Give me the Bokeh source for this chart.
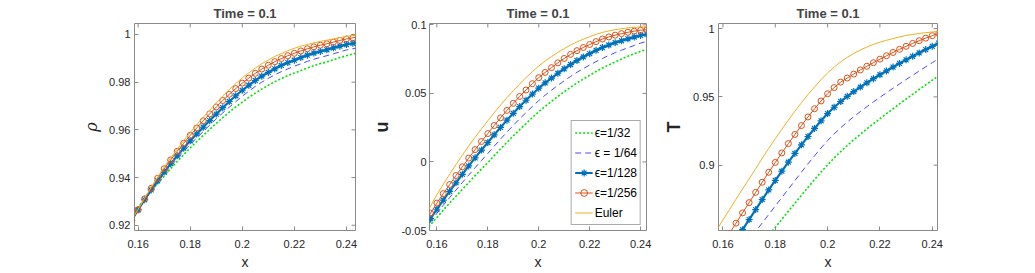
from bokeh.plotting import figure
from bokeh.layouts import row
from bokeh.models import FixedTicker, Range1d, Legend, LegendItem
from bokeh.embed import file_html
from bokeh.resources import INLINE

# ---------------- data ----------------
x = [0.155, 0.1575, 0.16, 0.1625, 0.165, 0.1675, 0.17, 0.1725, 0.175, 0.1775,
     0.18, 0.1825, 0.185, 0.1875, 0.19, 0.1925, 0.195, 0.1975, 0.2, 0.2025,
     0.205, 0.2075, 0.21, 0.2125, 0.215, 0.2175, 0.22, 0.2225, 0.225, 0.2275,
     0.23, 0.2325, 0.235, 0.2375, 0.24, 0.2425, 0.245]

rho_32 = [.9205, .9241, .9275, .9309, .9342, .9375, .9406, .9437, .9467, .9496,
          .9524, .9551, .9577, .9602, .9627, .9651, .9674, .9696, .9716, .9736,
          .9754, .9771, .9787, .9802, .9815, .9828, .9838, .9849, .9860, .9869,
          .9878, .9885, .9894, .9903, .9911, .9918, .9925]
rho_64 = [.9178, .9223, .9265, .9305, .9343, .9380, .9415, .9447, .9479, .9510,
          .9539, .9566, .9593, .9620, .9646, .9671, .9695, .9718, .9741, .9762,
          .9782, .9800, .9816, .9831, .9844, .9856, .9867, .9877, .9887, .9896,
          .9904, .9911, .9919, .9927, .9935, .9940, .9946]
rho_128 = [.9174, .9221, .9265, .9307, .9348, .9386, .9423, .9458, .9491, .9523,
           .9554, .9583, .9611, .9639, .9666, .9693, .9719, .9743, .9766, .9787,
           .9807, .9825, .9841, .9856, .9870, .9882, .9892, .9903, .9913, .9922,
           .9929, .9936, .9944, .9951, .9958, .9963, .9968]
rho_256 = [.9170, .9219, .9265, .9311, .9355, .9397, .9437, .9474, .9510, .9544,
           .9577, .9608, .9638, .9667, .9696, .9723, .9749, .9773, .9796, .9817,
           .9837, .9855, .9871, .9886, .9899, .9911, .9921, .9931, .9940, .9948,
           .9955, .9961, .9968, .9975, .9981, .9986, .9991]
rho_euler = [.9173, .9222, .9268, .9314, .9359, .9402, .9444, .9482, .9519, .9555,
             .9589, .9621, .9653, .9683, .9714, .9742, .9769, .9794, .9818, .9839,
             .9859, .9877, .9893, .9908, .9920, .9932, .9942, .9951, .9958, .9965,
             .9971, .9976, .9981, .9987, .9992, .9996, .9999]

u_32 = [-.0520, -.0457, -.0405, -.0351, -.0300, -.0250, -.0200, -.0150, -.0100, -.0052,
        -.0005, .0046, .0095, .0143, .0190, .0236, .0280, .0325, .0367, .0406,
        .0442, .0478, .0512, .0545, .0576, .0605, .0632, .0660, .0685, .0708,
        .0730, .0751, .0771, .0789, .0807, .0822, .0836]
u_64 = [-.0505, -.0437, -.0375, -.0316, -.0260, -.0205, -.0150, -.0096, -.0042, .0010,
        .0062, .0115, .0167, .0218, .0267, .0315, .0360, .0405, .0448, .0487,
        .0523, .0559, .0592, .0624, .0654, .0681, .0707, .0732, .0755, .0777,
        .0797, .0815, .0833, .0850, .0867, .0880, .0891]
u_128 = [-.0492, -.0414, -.0345, -.0278, -.0215, -.0152, -.0090, -.0029, .0030, .0087,
         .0142, .0198, .0252, .0305, .0355, .0404, .0450, .0495, .0538, .0577,
         .0612, .0647, .0680, .0711, .0740, .0766, .0790, .0814, .0835, .0853,
         .0870, .0884, .0898, .0911, .0923, .0931, .0938]
u_256 = [-.0455, -.0374, -.0300, -.0231, -.0165, -.0099, -.0035, .0028, .0090, .0149,
         .0207, .0266, .0322, .0376, .0428, .0478, .0525, .0571, .0615, .0653,
         .0688, .0723, .0755, .0785, .0812, .0835, .0857, .0878, .0897, .0912,
         .0925, .0936, .0946, .0954, .0961, .0965, .0968]
u_euler = [-.0410, -.0322, -.0240, -.0163, -.0090, -.0019, .0050, .0116, .0180, .0241,
           .0300, .0359, .0415, .0469, .0520, .0569, .0615, .0659, .0700, .0736,
           .0768, .0799, .0827, .0853, .0876, .0896, .0914, .0931, .0945, .0956,
           .0965, .0972, .0978, .0982, .0985, .0987, .0988]

T_32 = [.7946, .8006, .8066, .8126, .8186, .8246, .8306, .8366, .8426, .8486,
        .8545, .8604, .8663, .8722, .8780, .8838, .8894, .8950, .9003, .9053,
        .9100, .9144, .9186, .9226, .9265, .9303, .9340, .9377, .9413, .9449,
        .9484, .9519, .9554, .9588, .9622, .9656, .9690]
T_64 = [.8077, .8140, .8202, .8265, .8327, .8390, .8452, .8514, .8577, .8639,
        .8701, .8763, .8825, .8887, .8949, .9010, .9068, .9126, .9180, .9229,
        .9274, .9316, .9355, .9392, .9428, .9463, .9497, .9530, .9563, .9595,
        .9627, .9658, .9689, .9720, .9750, .9780, .9809]
T_128 = [.8153, .8228, .8303, .8378, .8453, .8528, .8602, .8675, .8748, .8819,
         .8888, .8956, .9022, .9086, .9149, .9210, .9269, .9325, .9378, .9424,
         .9466, .9504, .9539, .9572, .9603, .9633, .9662, .9690, .9718, .9745,
         .9771, .9797, .9822, .9846, .9870, .9893, .9915]
T_256 = [.8275, .8351, .8426, .8501, .8576, .8651, .8726, .8801, .8875, .8948,
         .9020, .9090, .9158, .9225, .9290, .9353, .9413, .9470, .9523, .9568,
         .9608, .9638, .9667, .9697, .9724, .9750, .9776, .9801, .9825, .9848,
         .9870, .9891, .9911, .9930, .9948, .9965, .9980]
T_euler = [.8447, .8523, .8599, .8675, .8751, .8826, .8899, .8974, .9049, .9123,
           .9194, .9263, .9330, .9395, .9457, .9517, .9573, .9626, .9675, .9718,
           .9756, .9789, .9818, .9843, .9865, .9884, .9900, .9914, .9927, .9939,
           .9949, .9957, .9964, .9970, .9975, .9979, .9982]

x_ticks = [0.16, 0.18, 0.2, 0.22, 0.24]
x_tick_labels = ["0.16", "0.18", "0.2", "0.22", "0.24"]
rho_ticks = [0.92, 0.94, 0.96, 0.98, 1.0]
rho_tick_labels = ["0.92", "0.94", "0.96", "0.98", "1"]
u_ticks = [-0.05, 0.0, 0.05, 0.1]
u_tick_labels = ["-0.05", "0", "0.05", "0.1"]
T_ticks = [0.9, 0.95, 1.0]
T_tick_labels = ["0.9", "0.95", "1"]

legend_labels = ["\u03f5=1/32", "\u03f5 = 1/64", "\u03f5=1/128", "\u03f5=1/256", "Euler"]
title_text = "Time = 0.1"

# ---------------- styling ----------------
FONT = "Liberation Sans"
BOX = "#8a8a8a"
C_GREEN = "#00e400"
C_DASH = "#4a4aff"
C_STAR = "#0072BD"
C_CIRC = "#D95319"
C_EULER = "#EDB120"
FRAME_H = 207
TICK = 4


def style_axis(ax, ticks, labels):
    ax.ticker = FixedTicker(ticks=ticks)
    ax.major_label_overrides = {t: l for t, l in zip(ticks, labels)}
    ax.axis_line_color = None
    ax.major_tick_line_color = BOX
    ax.major_tick_in = TICK
    ax.major_tick_out = 0
    ax.minor_tick_line_color = None
    ax.major_label_text_font = FONT
    ax.major_label_text_font_size = "11px"
    ax.major_label_text_color = "#262626"


def make_panel(xr, yr, yticks, ylabels, ylab, ylab_font, ylab_size, ylab_style,
               series, width, left, right, ylab_standoff, ytick_standoff, legend=False):
    frame_w = width - left - right
    p = figure(width=width, height=23 + FRAME_H + 43, output_backend="svg",
               toolbar_location=None,
               x_range=Range1d(*xr), y_range=Range1d(*yr),
               min_border_left=left, min_border_right=right,
               min_border_top=23, min_border_bottom=43)
    p.title.text = title_text
    p.title.align = "center"
    p.title.text_font = FONT
    p.title.text_font_size = "13px"
    p.title.text_font_style = "bold"
    p.title.standoff = 6
    p.outline_line_color = BOX
    p.outline_line_alpha = 1
    p.xgrid.visible = False
    p.ygrid.visible = False
    p.background_fill_color = "white"
    p.border_fill_color = "white"

    style_axis(p.xaxis[0], x_ticks, x_tick_labels)
    p.xaxis[0].major_label_standoff = 9
    p.xaxis[0].axis_label = "x"
    p.xaxis[0].axis_label_text_font = FONT
    p.xaxis[0].axis_label_text_font_size = "14px"
    p.xaxis[0].axis_label_text_font_style = "normal"
    p.xaxis[0].axis_label_text_color = "#262626"
    p.xaxis[0].axis_label_standoff = 3

    style_axis(p.yaxis[0], yticks, ylabels)
    p.yaxis[0].major_label_standoff = ytick_standoff
    p.yaxis[0].axis_label = ylab
    p.yaxis[0].axis_label_text_font = ylab_font
    p.yaxis[0].axis_label_text_font_size = ylab_size
    p.yaxis[0].axis_label_text_font_style = ylab_style
    p.yaxis[0].axis_label_text_color = "#262626"
    p.yaxis[0].axis_label_standoff = ylab_standoff

    # inward tick marks on the top and right edges of the box (mirror of the axes)
    dy = TICK * (yr[1] - yr[0]) / FRAME_H
    dx = TICK * (xr[1] - xr[0]) / frame_w
    p.segment(x0=x_ticks, x1=x_ticks, y0=[yr[1]] * len(x_ticks),
              y1=[yr[1] - dy] * len(x_ticks), line_color=BOX, line_width=1)
    p.segment(x0=[xr[1]] * len(yticks), x1=[xr[1] - dx] * len(yticks),
              y0=yticks, y1=yticks, line_color=BOX, line_width=1)

    y32, y64, y128, y256, yeu = series
    r1 = p.line(x, y32, line_color=C_GREEN, line_width=1.6, line_dash="2 2")
    r2 = p.line(x, y64, line_color=C_DASH, line_width=1, line_dash="6 4")
    r3l = p.line(x, y128, line_color=C_STAR, line_width=2.2)
    r3m = p.scatter(x, y128, marker="asterisk", size=7, line_color=C_STAR, line_width=1.2)
    r4l = p.line(x, y256, line_color=C_CIRC, line_width=1)
    r4m = p.scatter(x, y256, marker="circle", size=6, line_color=C_CIRC,
                    fill_color=None, line_width=1)
    r5 = p.line(x, yeu, line_color=C_EULER, line_width=1)

    if legend:
        items = [LegendItem(label=legend_labels[0], renderers=[r1]),
                 LegendItem(label=legend_labels[1], renderers=[r2]),
                 LegendItem(label=legend_labels[2], renderers=[r3l, r3m]),
                 LegendItem(label=legend_labels[3], renderers=[r4l, r4m]),
                 LegendItem(label=legend_labels[4], renderers=[r5])]
        lg = Legend(items=items, location="bottom_right", orientation="vertical",
                    label_text_font=FONT, label_text_font_size="12px",
                    label_text_color="#000000",
                    label_height=17, glyph_height=17, glyph_width=18,
                    label_standoff=2, spacing=3, padding=3, margin=5,
                    border_line_color="#555555", border_line_width=1,
                    background_fill_color="white", background_fill_alpha=1)
        p.add_layout(lg)
    return p


p1 = make_panel((0.1586, 0.2435), (0.9178, 1.0046), rho_ticks,
                rho_tick_labels, "\u03c1", "DejaVu Serif", "16px", "italic",
                (rho_32, rho_64, rho_128, rho_256, rho_euler),
                width=369, left=134, right=14, ylab_standoff=5, ytick_standoff=4)
p2 = make_panel((0.1571, 0.2423), (-0.05, 0.101), u_ticks, u_tick_labels,
                "u", FONT, "18px", "bold", (u_32, u_64, u_128, u_256, u_euler),
                width=292, left=56, right=15, ylab_standoff=6, ytick_standoff=3,
                legend=True)
p3 = make_panel((0.1583, 0.2420), (0.8522, 1.0037), T_ticks, T_tick_labels,
                "T", FONT, "18px", "bold", (T_32, T_64, T_128, T_256, T_euler),
                width=358, left=54, right=82, ylab_standoff=6, ytick_standoff=4)

layout = row(p1, p2, p3, spacing=0)

open("out.html", "w").write(file_html(layout, INLINE))
